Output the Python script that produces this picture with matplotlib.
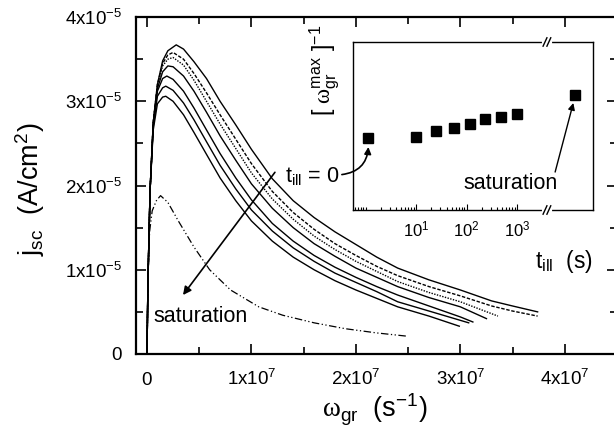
import numpy as np
import matplotlib
matplotlib.use('Agg')
import matplotlib.pyplot as plt
from matplotlib.ticker import FixedLocator, NullFormatter

plt.rcParams['font.family'] = 'Liberation Sans'
plt.rcParams['mathtext.fontset'] = 'custom'
plt.rcParams['mathtext.rm'] = 'Liberation Sans'
plt.rcParams['mathtext.it'] = 'Liberation Sans:italic'
plt.rcParams['mathtext.cal'] = 'Liberation Serif'
plt.rcParams['mathtext.default'] = 'regular'

# main panel: omega_gr in units of 1e7 s^-1, j_sc in units of 1e-5 A/cm^2
c0_x = [0, 0.01, 0.03, 0.06, 0.10, 0.15, 0.20, 0.28, 0.35, 0.45, 0.57, 0.70, 0.85, 1.0, 1.2, 1.4, 1.6, 1.8, 2.0, 2.2, 2.4, 2.7, 3.0, 3.3, 3.5, 3.74]
c0_j = [0, 0.9, 1.95, 2.75, 3.2, 3.48, 3.60, 3.67, 3.62, 3.47, 3.27, 3.00, 2.72, 2.43, 2.08, 1.82, 1.62, 1.45, 1.30, 1.15, 1.02, 0.88, 0.76, 0.63, 0.57, 0.50]

c1_x = [0, 0.01, 0.03, 0.06, 0.10, 0.15, 0.20, 0.25, 0.35, 0.45, 0.57, 0.70, 0.85, 1.0, 1.2, 1.4, 1.6, 1.8, 2.0, 2.2, 2.4, 2.7, 3.0, 3.3, 3.5, 3.74]
c1_j = [0, 0.9, 1.95, 2.75, 3.2, 3.45, 3.55, 3.58, 3.50, 3.33, 3.10, 2.84, 2.55, 2.26, 1.93, 1.68, 1.48, 1.31, 1.17, 1.04, 0.93, 0.80, 0.69, 0.57, 0.51, 0.45]

c2_x = [0, 0.01, 0.03, 0.06, 0.10, 0.15, 0.20, 0.25, 0.35, 0.45, 0.57, 0.70, 0.85, 1.0, 1.2, 1.4, 1.6, 1.8, 2.0, 2.2, 2.4, 2.7, 3.0, 3.36]
c2_j = [0, 0.9, 1.95, 2.75, 3.18, 3.42, 3.50, 3.52, 3.43, 3.25, 3.00, 2.73, 2.44, 2.15, 1.84, 1.60, 1.40, 1.24, 1.10, 0.98, 0.86, 0.73, 0.62, 0.45]

c3_x = [0, 0.01, 0.03, 0.06, 0.10, 0.15, 0.20, 0.25, 0.35, 0.45, 0.57, 0.70, 0.85, 1.0, 1.2, 1.4, 1.6, 1.8, 2.0, 2.2, 2.4, 2.7, 3.0, 3.25]
c3_j = [0, 0.9, 1.95, 2.74, 3.15, 3.35, 3.42, 3.41, 3.30, 3.12, 2.87, 2.59, 2.30, 2.02, 1.73, 1.50, 1.31, 1.16, 1.02, 0.91, 0.80, 0.67, 0.56, 0.42]

c4_x = [0, 0.01, 0.03, 0.06, 0.10, 0.15, 0.19, 0.25, 0.35, 0.45, 0.57, 0.70, 0.85, 1.0, 1.2, 1.4, 1.6, 1.8, 2.0, 2.2, 2.4, 2.7, 3.0, 3.12]
c4_j = [0, 0.9, 1.95, 2.72, 3.12, 3.27, 3.30, 3.26, 3.12, 2.92, 2.66, 2.38, 2.09, 1.83, 1.55, 1.34, 1.17, 1.03, 0.91, 0.80, 0.70, 0.57, 0.44, 0.38]

c5_x = [0, 0.01, 0.03, 0.06, 0.10, 0.15, 0.18, 0.25, 0.35, 0.45, 0.57, 0.70, 0.85, 1.0, 1.2, 1.4, 1.6, 1.8, 2.0, 2.2, 2.4, 2.7, 3.08]
c5_j = [0, 0.9, 1.95, 2.70, 3.06, 3.16, 3.18, 3.13, 2.98, 2.78, 2.52, 2.24, 1.96, 1.71, 1.46, 1.26, 1.10, 0.96, 0.85, 0.74, 0.62, 0.51, 0.37]

c6_x = [0, 0.01, 0.03, 0.06, 0.10, 0.15, 0.18, 0.25, 0.35, 0.45, 0.57, 0.70, 0.85, 1.0, 1.2, 1.4, 1.6, 1.8, 2.0, 2.2, 2.4, 2.7, 2.99]
c6_j = [0, 0.9, 1.95, 2.66, 2.97, 3.05, 3.06, 3.00, 2.84, 2.63, 2.37, 2.09, 1.82, 1.58, 1.34, 1.15, 1.00, 0.87, 0.76, 0.66, 0.56, 0.45, 0.33]

sat_x = [0, 0.01, 0.025, 0.05, 0.09, 0.13, 0.2, 0.3, 0.45, 0.6, 0.8, 1.07, 1.3, 1.6, 1.9, 2.2, 2.5]
sat_j = [0, 0.9, 1.45, 1.70, 1.82, 1.88, 1.80, 1.58, 1.27, 1.0, 0.76, 0.56, 0.46, 0.37, 0.30, 0.25, 0.21]

# inset: t_ill (s) and [omega_gr^max]^-1 (arb. units); t_ill = 0 drawn at ~1 s
inset_t = [1.13, 10, 25, 55, 115, 235, 480, 990]
inset_w = [0.427, 0.437, 0.472, 0.486, 0.514, 0.542, 0.556, 0.571]
sat_t = [1.4e4]
sat_w = [0.685]

x_ticks = [0, 1, 2, 3, 4]
x_labels = ['0', '1x10$^7$', '2x10$^7$', '3x10$^7$', '4x10$^7$']
y_ticks = [0, 1, 2, 3, 4]
y_labels = ['0', '1x10$^{-5}$', '2x10$^{-5}$', '3x10$^{-5}$', '4x10$^{-5}$']
in_ticks = [10, 100, 1000]
in_labels = ['10$^1$', '10$^2$', '10$^3$']

fig = plt.figure(figsize=(6.14, 4.41), dpi=100)
ax = fig.add_axes([0.2215, 0.1973, 0.7834, 0.764])

curves = [(c0_x, c0_j, '-'), (c1_x, c1_j, (0, (2.5, 1.2))), (c2_x, c2_j, (0, (1, 1))),
          (c3_x, c3_j, '-'), (c4_x, c4_j, '-'), (c5_x, c5_j, '-'), (c6_x, c6_j, '-')]
for cx, cj, ls in curves:
    ax.plot(cx, cj, color='k', ls=ls, lw=1.0)
ax.plot(sat_x, sat_j, color='k', lw=0.9, ls=(0, (6, 2, 1, 2, 1, 2)))

ax.set_xlim(-0.105, 4.5)
ax.set_ylim(0, 4)
ax.set_xticks(x_ticks)
ax.set_xticklabels(x_labels, fontsize=13.5, va='baseline')
ax.set_yticks(y_ticks)
ax.set_yticklabels(y_labels, fontsize=13.5, va='center_baseline')
ax.xaxis.set_minor_locator(FixedLocator([0.5, 1.5, 2.5, 3.5]))
ax.yaxis.set_minor_locator(FixedLocator([0.5, 1.5, 2.5, 3.5]))
ax.tick_params(which='both', direction='in', top=True, right=True, width=1.2)
ax.tick_params(which='major', length=7)
ax.tick_params(which='minor', length=5)
ax.tick_params(axis='x', which='major', pad=22)
ax.tick_params(axis='y', which='major', pad=10)
for s in ax.spines.values():
    s.set_linewidth(1.6)

ax.set_xlabel(r'$\mathcal{\omega}_{gr}$  (s$^{-1}$)', fontsize=19.5)
ax.xaxis.set_label_coords(0.497, -0.112)
ax.set_ylabel(r'j$_{sc}$  (A/cm$^2$)', fontsize=19.5)
ax.yaxis.set_label_coords(-0.186, 0.49)

ax.text(0.06, 0.44, 'saturation', fontsize=15.5, va='center')
ax.text(1.32, 2.11, r't$_{ill}$ = 0', fontsize=15.5, va='center')
ax.annotate('', xy=(0.345, 0.70), xytext=(1.225, 2.157),
            arrowprops=dict(arrowstyle='-|>', color='k', lw=1.2, mutation_scale=12,
                            shrinkA=0, shrinkB=0))

# inset
ax_in = fig.add_axes([0.5749, 0.5238, 0.3909, 0.3810])
ax_in.set_xscale('log')
ax_in.plot(inset_t, inset_w, 's', color='k', ms=7)
ax_in.plot(sat_t, sat_w, 's', color='k', ms=7)
ax_in.set_xlim(0.56, 31600)
ax_in.set_ylim(0, 1)
ax_in.set_yticks([])
ax_in.xaxis.set_major_locator(FixedLocator(in_ticks))
ax_in.set_xticklabels(in_labels, fontsize=12, va='baseline')
minors = [m * 10.0 ** k for k in range(-1, 3) for m in range(2, 10)]
minors = [m for m in minors if 0.56 < m < 1000] + [1]
ax_in.xaxis.set_minor_locator(FixedLocator(minors))
ax_in.xaxis.set_minor_formatter(NullFormatter())
ax_in.tick_params(which='both', direction='in', top=False, left=False, right=False, width=0.8)
ax_in.tick_params(which='major', length=4, pad=19)
ax_in.tick_params(which='minor', length=2.5)
for s in ax_in.spines.values():
    s.set_linewidth(1.0)

ax_in.set_xlabel(r't$_{ill}$  (s)', fontsize=16.5)
ax_in.xaxis.set_label_coords(0.879, -0.225)
ax_in.set_ylabel(r'[ $\mathcal{\omega}_{gr}^{max}$ ]$^{-1}$', fontsize=16.5)
ax_in.yaxis.set_label_coords(-0.046, 0.83)

# axis break marks
bx = 0.808
for yy in (0, 1):
    ax_in.plot([bx - 0.014, bx + 0.014], [yy, yy], transform=ax_in.transAxes,
               color='white', lw=3, clip_on=False, zorder=5)
    for dx in (-0.008, 0.008):
        ax_in.plot([bx + dx - 0.008, bx + dx + 0.008], [yy - 0.025, yy + 0.025],
                   transform=ax_in.transAxes, color='k', lw=1, clip_on=False, zorder=6)

ax_in.text(85, 0.16, 'saturation', fontsize=15.5, va='center')
ax_in.annotate('', xy=(10 ** 4.11, 0.637), xytext=(10 ** 3.75, 0.226),
               arrowprops=dict(arrowstyle='-|>', color='k', lw=1.0, mutation_scale=10,
                               shrinkA=0, shrinkB=0))
ax_in.annotate('', xy=(1.13, 0.375), xytext=(1.866, 2.13), textcoords=ax.transData,
               arrowprops=dict(arrowstyle='-|>', color='k', lw=1.2, mutation_scale=10,
                               shrinkA=0, shrinkB=0, connectionstyle='arc3,rad=0.4'))

fig.savefig('out.png', dpi=100)
